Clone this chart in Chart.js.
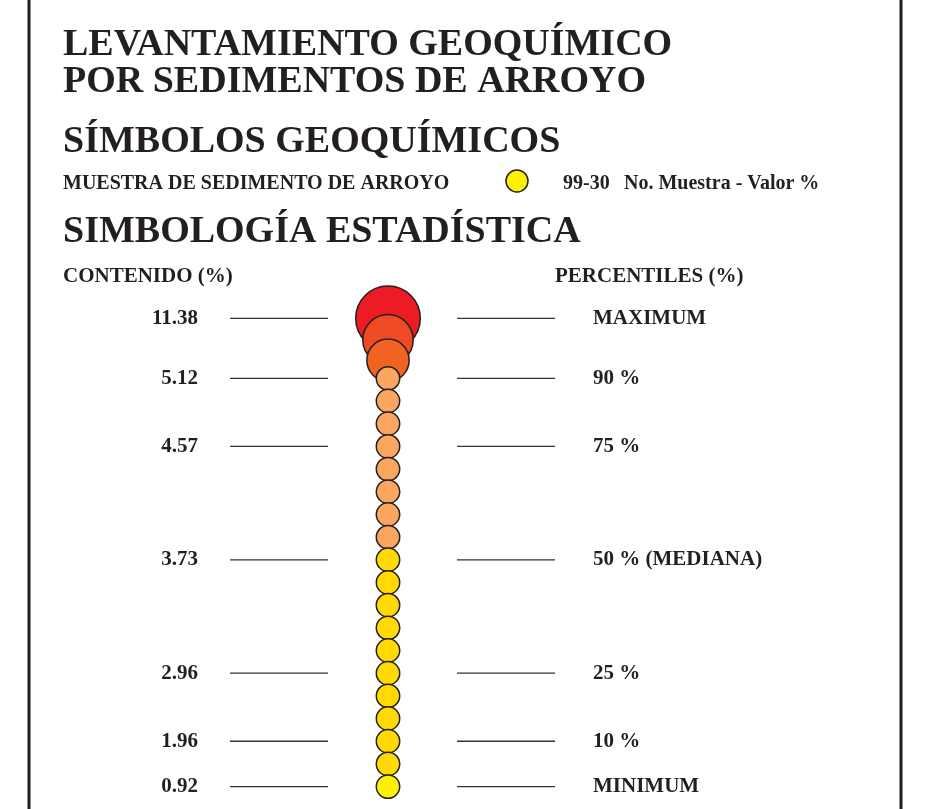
<!DOCTYPE html>
<html>
<head>
<meta charset="utf-8">
<script src="https://cdn.jsdelivr.net/npm/chart.js"></script>
<style>
html,body{margin:0;padding:0;background:#fff;}
#wrap{position:relative;width:927px;height:809px;}
</style>
</head>
<body>
<div id="wrap"><canvas id="c"></canvas></div>
<script>
// ---- data ----
// sample contents (%), sorted from highest to lowest
const sampleValues = [11.38, 9.19, 7.94, 5.12, 4.93, 4.74, 4.57, 4.35, 4.18, 4.02, 3.86,
                      3.73, 3.55, 3.41, 3.28, 3.10, 2.96, 2.68, 2.31, 1.96, 1.45, 0.92];
// ordinal place of each sample in the stacked column (0 = lowest)
const stackOrder = [20.65, 19.7, 18.8, 18, 17, 16, 15, 14, 13, 12, 11,
                    10, 9, 8, 7, 6, 5, 4, 3, 2, 1, 0];
// statistic tick labels
const contentLabels = ['11.38', '5.12', '4.57', '3.73', '2.96', '1.96', '0.92'];
const percentileLabels = ['MAXIMUM', '90 %', '75 %', '50 % (MEDIANA)', '25 %', '10 %', 'MINIMUM'];
// header texts
const titleLines = ['LEVANTAMIENTO GEOQUÍMICO', 'POR SEDIMENTOS DE ARROYO'];
const symbolsTitle = 'SÍMBOLOS GEOQUÍMICOS';
const legendLabel = 'MUESTRA DE SEDIMENTO DE ARROYO';
const legendCode = '99-30';
const legendDesc = 'No. Muestra - Valor %';
const statsTitle = 'SIMBOLOGÍA ESTADÍSTICA';
const leftHeader = 'CONTENIDO (%)';
const rightHeader = 'PERCENTILES (%)';

// ---- derived statistics ----
const statValues = contentLabels.map(Number);
const pMax = statValues[0], p90 = statValues[1], p50 = statValues[3], pMin = statValues[6];
const tickPositions = statValues.map(v => stackOrder[sampleValues.indexOf(v)]);
function labelFor(list, value) {
  const i = tickPositions.indexOf(value);
  return i >= 0 ? list[i] : '';
}

const INK = '#231F20';
const SERIF = '"Liberation Serif", "Times New Roman", serif';

function colorFor(v) {
  if (v >= pMax) return '#ED1C24';
  if (v > p90) return v > (p90 + pMax) / 2 ? '#EF4A24' : '#F26322';
  if (v > p50) return '#FBA65F';
  if (v > pMin) return '#FFD900';
  return '#FFF200';
}
function radiusFor(v) {
  if (v > p90) return 12 + (v - p90) / (pMax - p90) * 20.3;
  return 11.7;
}

const decor = {
  id: 'decor',
  beforeDraw(chart) {
    const ctx = chart.ctx;
    ctx.save();
    ctx.fillStyle = '#ffffff';
    ctx.fillRect(0, 0, chart.width, chart.height);
    ctx.restore();
  },
  afterDraw(chart) {
    const ctx = chart.ctx;
    ctx.save();
    ctx.fillStyle = INK;
    ctx.textAlign = 'left';
    ctx.textBaseline = 'alphabetic';
    // frame lines
    ctx.fillRect(27.5, 0, 3, chart.height);
    ctx.fillRect(899.5, 0, 3, chart.height);
    // headings
    ctx.font = 'bold 38px ' + SERIF;
    ctx.fillText(titleLines[0], 63, 54.5);
    ctx.fillText(titleLines[1], 63, 91.8);
    ctx.fillText(symbolsTitle, 63, 151.8);
    ctx.fillText(statsTitle, 63, 241.8);
    ctx.font = 'bold 20px ' + SERIF;
    ctx.fillText(legendLabel, 63, 189.3);
    ctx.fillText(legendCode, 563, 189.3);
    ctx.fillText(legendDesc, 624, 189.3);
    ctx.font = 'bold 21px ' + SERIF;
    ctx.fillText(leftHeader, 63, 281.7);
    ctx.fillText(rightHeader, 555, 281.7);
    // legend symbol
    ctx.beginPath();
    ctx.arc(517, 181, 11, 0, Math.PI * 2);
    ctx.fillStyle = '#FFF200';
    ctx.fill();
    ctx.lineWidth = 1.5;
    ctx.strokeStyle = INK;
    ctx.stroke();
    // leader segments at each statistic tick
    const ys = chart.scales.y;
    ctx.strokeStyle = '#333333';
    ctx.lineWidth = 1.3;
    ys.ticks.forEach(t => {
      const y = ys.getPixelForValue(t.value);
      ctx.beginPath();
      ctx.moveTo(230, y); ctx.lineTo(328, y);
      ctx.moveTo(457, y); ctx.lineTo(555, y);
      ctx.stroke();
    });
    ctx.restore();
  }
};

const tickFont = { family: SERIF, size: 21, weight: 'bold' };
const Y_MIN = -0.9, Y_MAX = 21.5;

new Chart(document.getElementById('c'), {
  type: 'bubble',
  data: {
    datasets: [{
      data: sampleValues.map((v, i) => ({ x: 0, y: stackOrder[i] })),
      backgroundColor: ctx => colorFor(sampleValues[ctx.dataIndex]),
      borderColor: INK,
      borderWidth: 1.5,
      radius: ctx => radiusFor(sampleValues[ctx.dataIndex]),
      hoverRadius: 0,
      clip: false
    }]
  },
  options: {
    responsive: true,
    maintainAspectRatio: false,
    animation: false,
    events: [],
    layout: { autoPadding: false, padding: { top: 299, bottom: 2, left: 30, right: 0 } },
    plugins: { legend: { display: false }, tooltip: { enabled: false }, title: { display: false } },
    scales: {
      x: { type: 'linear', min: -1, max: 1, display: false },
      y: {
        type: 'linear', position: 'left', min: Y_MIN, max: Y_MAX,
        grid: { display: false, drawTicks: false }, border: { display: false },
        afterBuildTicks: s => { s.ticks = tickPositions.slice().sort((a, b) => a - b).map(v => ({ value: v })); },
        afterFit: s => { s.width = 191; s.paddingTop = 0; s.paddingBottom = 0; },
        ticks: { autoSkip: false, padding: 23, color: INK, font: tickFont,
                 callback: v => labelFor(contentLabels, v) }
      },
      y2: {
        type: 'linear', position: 'right', min: Y_MIN, max: Y_MAX,
        grid: { display: false, drawTicks: false }, border: { display: false },
        afterBuildTicks: s => { s.ticks = tickPositions.slice().sort((a, b) => a - b).map(v => ({ value: v })); },
        afterFit: s => { s.width = 372; s.paddingTop = 0; s.paddingBottom = 0; },
        ticks: { autoSkip: false, padding: 38, color: INK, font: tickFont,
                 callback: v => labelFor(percentileLabels, v) }
      }
    }
  },
  plugins: [decor]
});
</script>
</body>
</html>
